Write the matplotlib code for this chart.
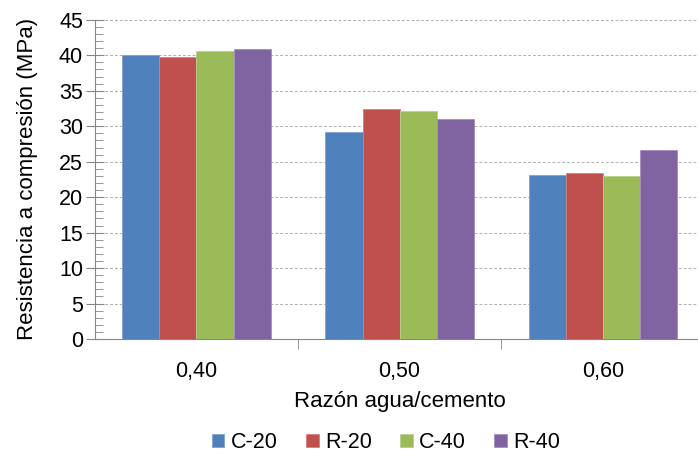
import numpy as np
import matplotlib
matplotlib.use("Agg")
import matplotlib.pyplot as plt
from matplotlib.ticker import MultipleLocator, FixedLocator

plt.rcParams['font.family'] = ['Liberation Sans', 'DejaVu Sans']

categories = ['0,40', '0,50', '0,60']
series = ['C-20', 'R-20', 'C-40', 'R-40']
c20 = [40.1, 29.2, 23.1]
r20 = [39.7, 32.4, 23.4]
c40 = [40.6, 32.2, 23.0]
r40 = [40.9, 31.0, 26.6]
values = [c20, r20, c40, r40]
colors = ['#4F81BD', '#C0504D', '#9BBB59', '#8064A2']
edges = ['#7fa3d0', '#d67f7d', '#b9d08a', '#a48fbf']

fig = plt.figure(figsize=[6.98, 4.54], dpi=100)
ax = fig.add_axes([0.136, 0.2533, 0.873, 0.703])

x = np.arange(len(categories))
width = 0.1825
for i, (name, vals) in enumerate(zip(series, values)):
    ax.bar(x + (i - 1.5) * width, vals, width, color=colors[i],
           edgecolor=edges[i], linewidth=0.6, label=name, zorder=3)

ax.set_xlim(-0.5, 2.5)
ax.set_ylim(0, 45)
ax.yaxis.set_major_locator(MultipleLocator(5))
ax.yaxis.set_minor_locator(MultipleLocator(1))
ax.grid(axis='y', which='major', linestyle=(0, (3, 2)), color='#b0b0b0',
        linewidth=0.7, zorder=0)

ax.set_xticks(x)
ax.set_xticklabels(categories)
ax.xaxis.set_minor_locator(FixedLocator([0.5, 1.5]))
ax.tick_params(axis='x', which='major', length=0, pad=16, labelsize=15.5)
ax.tick_params(axis='x', which='minor', direction='out', length=7,
               color='#868686')
ax.tick_params(axis='y', which='major', direction='inout', length=13,
               color='#868686', labelsize=15.5, pad=2)
ax.tick_params(axis='y', which='minor', direction='in', length=6,
               color='#868686')

for s in ['top', 'right']:
    ax.spines[s].set_visible(False)
for s in ['left', 'bottom']:
    ax.spines[s].set_color('#868686')

ax.set_ylabel('Resistencia a compresión (MPa)', fontsize=16, labelpad=15)
ax.set_xlabel('Razón agua/cemento', fontsize=16, labelpad=6)

fig.legend(loc='center', bbox_to_anchor=(0.553, 0.025), ncol=4, frameon=False,
           fontsize=15.5, handlelength=0.6, handleheight=0.6, handletextpad=0.3,
           columnspacing=1.3)

plt.savefig('out.png', dpi=100)
